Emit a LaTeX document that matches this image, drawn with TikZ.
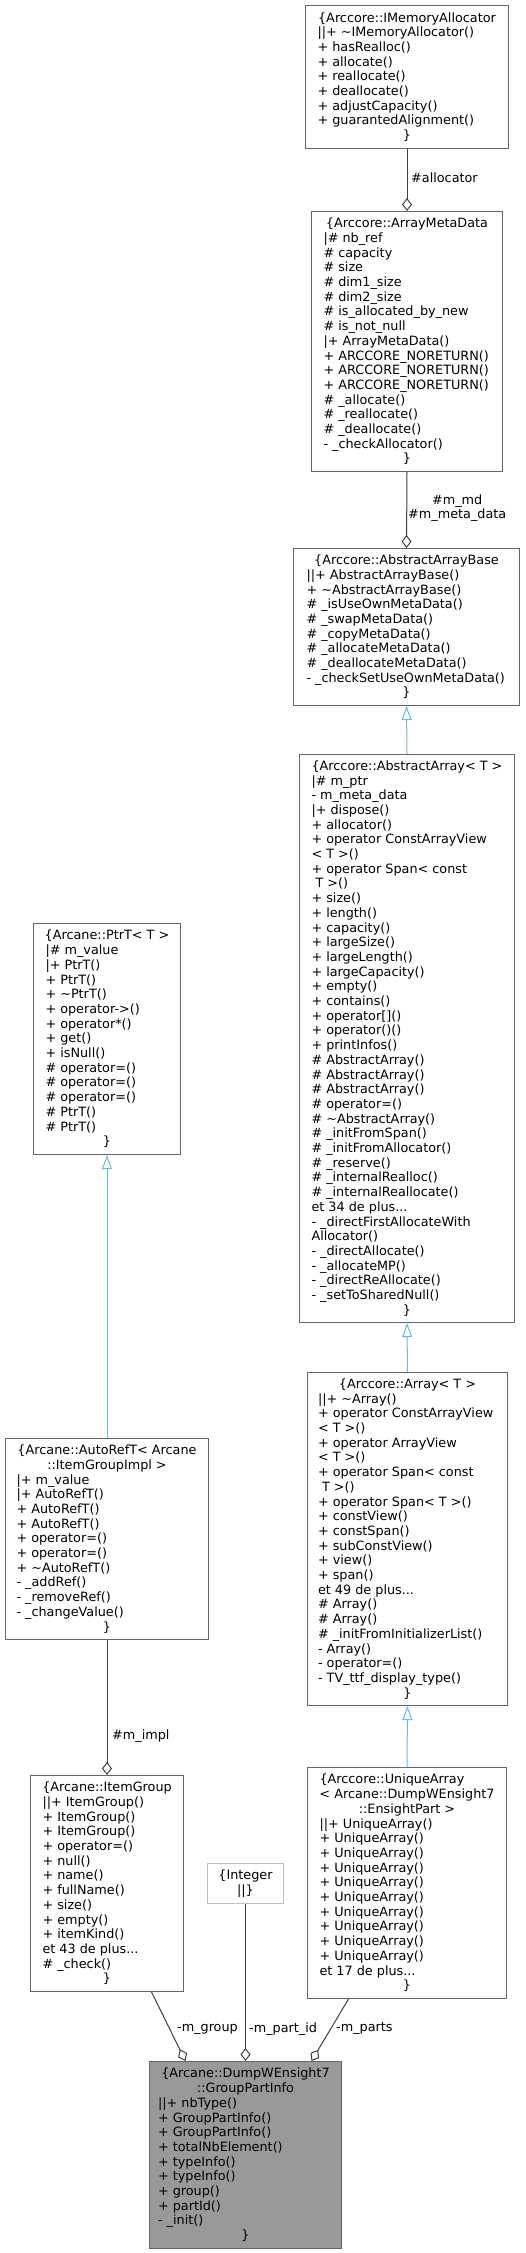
\documentclass[tikz,border=0pt]{standalone}
\usepackage{fontspec}
\setmainfont{DejaVu Sans}
\usetikzlibrary{arrows.meta}
\definecolor{cbord}{HTML}{666666}
\definecolor{cint}{HTML}{BFBFBF}
\definecolor{cmain}{HTML}{999999}
\definecolor{cedge}{HTML}{404040}
\definecolor{cinh}{HTML}{63B8FF}
\newcommand\nodefont{\fontsize{12.8pt}{14.7pt}\selectfont}
\newcommand\rowL[1]{\hbox to\hsize{#1\hss}}
\newcommand\rowC[1]{\hbox to\hsize{\hss#1\hss}}
\begin{document}
\begin{tikzpicture}[x=1pt,y=-1pt,
  cls/.style={draw=cbord, line width=1pt, fill=white, inner sep=0pt, anchor=north west, font=\nodefont},
  mainbox/.style={cls, fill=cmain},
  intbox/.style={cls, draw=cint},
  use/.style={draw=cedge, line width=1pt, -{Diamond[open,length=13pt,width=10pt]}},
  inh/.style={draw=cinh, line width=1pt, -{Triangle[open,length=14pt,width=10pt]}},
  lbl/.style={inner sep=0pt, font=\nodefont, text=black}]
\useasboundingbox (0,0) rectangle (525,2253);

\node[cls, minimum width=203pt, minimum height=143pt] (imem) at (305,5) {\vbox{\hsize=179pt
\rowC{\{Arccore::IMemoryAllocator}
\rowL{||+ \textasciitilde IMemoryAllocator()}
\rowL{+ hasRealloc()}
\rowL{+ allocate()}
\rowL{+ reallocate()}
\rowL{+ deallocate()}
\rowL{+ adjustCapacity()}
\rowL{+ guarantedAlignment()}
\rowC{\}}}};

\node[cls, minimum width=191pt, minimum height=260pt] (amd) at (311,211) {\vbox{\hsize=167pt
\rowC{\{Arccore::ArrayMetaData}
\rowL{|\# nb\_ref}
\rowL{\# capacity}
\rowL{\# size}
\rowL{\# dim1\_size}
\rowL{\# dim2\_size}
\rowL{\# is\_allocated\_by\_new}
\rowL{\# is\_not\_null}
\rowL{|+ ArrayMetaData()}
\rowL{+ ARCCORE\_NORETURN()}
\rowL{+ ARCCORE\_NORETURN()}
\rowL{+ ARCCORE\_NORETURN()}
\rowL{\# \_allocate()}
\rowL{\# \_reallocate()}
\rowL{\# \_deallocate()}
\rowL{- \_checkAllocator()}
\rowC{\}}}};

\node[cls, minimum width=226pt, minimum height=157pt] (aab) at (293,548) {\vbox{\hsize=200pt
\rowC{\{Arccore::AbstractArrayBase}
\rowL{||+ AbstractArrayBase()}
\rowL{+ \textasciitilde AbstractArrayBase()}
\rowL{\# \_isUseOwnMetaData()}
\rowL{\# \_swapMetaData()}
\rowL{\# \_copyMetaData()}
\rowL{\# \_allocateMetaData()}
\rowL{\# \_deallocateMetaData()}
\rowL{- \_checkSetUseOwnMetaData()}
\rowC{\}}}};

\node[cls, minimum width=215pt, minimum height=568pt] (aa) at (299,754) {\vbox{\hsize=191pt
\rowC{\{Arccore::AbstractArray< T >}
\rowL{|\# m\_ptr}
\rowL{- m\_meta\_data}
\rowL{|+ dispose()}
\rowL{+ allocator()}
\rowL{+ operator ConstArrayView}
\rowL{< T >()}
\rowL{+ operator Span< const}
\rowL{\ T >()}
\rowL{+ size()}
\rowL{+ length()}
\rowL{+ capacity()}
\rowL{+ largeSize()}
\rowL{+ largeLength()}
\rowL{+ largeCapacity()}
\rowL{+ empty()}
\rowL{+ contains()}
\rowL{+ operator[]()}
\rowL{+ operator()()}
\rowL{+ printInfos()}
\rowL{\# AbstractArray()}
\rowL{\# AbstractArray()}
\rowL{\# AbstractArray()}
\rowL{\# operator=()}
\rowL{\# \textasciitilde AbstractArray()}
\rowL{\# \_initFromSpan()}
\rowL{\# \_initFromAllocator()}
\rowL{\# \_reserve()}
\rowL{\# \_internalRealloc()}
\rowL{\# \_internalReallocate()}
\rowL{et 34 de plus...}
\rowL{- \_directFirstAllocateWith}
\rowL{Allocator()}
\rowL{- \_directAllocate()}
\rowL{- \_allocateMP()}
\rowL{- \_directReAllocate()}
\rowL{- \_setToSharedNull()}
\rowC{\}}}};

\node[cls, minimum width=200pt, minimum height=333pt] (arr) at (307,1372) {\vbox{\hsize=179pt
\rowC{\{Arccore::Array< T >}
\rowL{||+ \textasciitilde Array()}
\rowL{+ operator ConstArrayView}
\rowL{< T >()}
\rowL{+ operator ArrayView}
\rowL{< T >()}
\rowL{+ operator Span< const}
\rowL{\ T >()}
\rowL{+ operator Span< T >()}
\rowL{+ constView()}
\rowL{+ constSpan()}
\rowL{+ subConstView()}
\rowL{+ view()}
\rowL{+ span()}
\rowL{et 49 de plus...}
\rowL{\# Array()}
\rowL{\# Array()}
\rowL{\# \_initFromInitializerList()}
\rowL{- Array()}
\rowL{- operator=()}
\rowL{- TV\_ttf\_display\_type()}
\rowC{\}}}};

\node[cls, minimum width=199pt, minimum height=231pt] (ua) at (307,1767) {\vbox{\hsize=175pt
\rowL{\{Arccore::UniqueArray}
\rowC{< Arcane::DumpWEnsight7}
\rowC{::EnsightPart >}
\rowL{||+ UniqueArray()}
\rowL{+ UniqueArray()}
\rowL{+ UniqueArray()}
\rowL{+ UniqueArray()}
\rowL{+ UniqueArray()}
\rowL{+ UniqueArray()}
\rowL{+ UniqueArray()}
\rowL{+ UniqueArray()}
\rowL{+ UniqueArray()}
\rowL{+ UniqueArray()}
\rowL{et 17 de plus...}
\rowC{\}}}};

\node[cls, minimum width=147pt, minimum height=231pt] (ptr) at (33,923) {\vbox{\hsize=123pt
\rowC{\{Arcane::PtrT< T >}
\rowL{|\# m\_value}
\rowL{|+ PtrT()}
\rowL{+ PtrT()}
\rowL{+ \textasciitilde PtrT()}
\rowL{+ operator->()}
\rowL{+ operator*()}
\rowL{+ get()}
\rowL{+ isNull()}
\rowL{\# operator=()}
\rowL{\# operator=()}
\rowL{\# operator=()}
\rowL{\# PtrT()}
\rowL{\# PtrT()}
\rowC{\}}}};

\node[cls, minimum width=203pt, minimum height=201pt] (ar) at (5,1438) {\vbox{\hsize=181pt
\rowC{\{Arcane::AutoRefT< Arcane}
\rowC{::ItemGroupImpl >}
\rowL{|+ m\_value}
\rowL{|+ AutoRefT()}
\rowL{+ AutoRefT()}
\rowL{+ AutoRefT()}
\rowL{+ operator=()}
\rowL{+ operator=()}
\rowL{+ \textasciitilde AutoRefT()}
\rowL{- \_addRef()}
\rowL{- \_removeRef()}
\rowL{- \_changeValue()}
\rowC{\}}}};

\node[cls, minimum width=153pt, minimum height=216pt] (ig) at (30,1775) {\vbox{\hsize=129pt
\rowC{\{Arcane::ItemGroup}
\rowL{||+ ItemGroup()}
\rowL{+ ItemGroup()}
\rowL{+ ItemGroup()}
\rowL{+ operator=()}
\rowL{+ null()}
\rowL{+ name()}
\rowL{+ fullName()}
\rowL{+ size()}
\rowL{+ empty()}
\rowL{+ itemKind()}
\rowL{et 43 de plus...}
\rowL{\# \_check()}
\rowC{\}}}};

\node[intbox, minimum width=76pt, minimum height=40pt] (int) at (207,1863) {\vbox{\hsize=60pt
\rowC{\{Integer}
\rowC{||\}}}};

\node[mainbox, minimum width=192pt, minimum height=187pt] (main) at (149,2061) {\vbox{\hsize=175pt
\rowC{\{Arcane::DumpWEnsight7}
\rowC{::GroupPartInfo}
\rowL{||+ nbType()}
\rowL{+ GroupPartInfo()}
\rowL{+ GroupPartInfo()}
\rowL{+ totalNbElement()}
\rowL{+ typeInfo()}
\rowL{+ typeInfo()}
\rowL{+ group()}
\rowL{+ partId()}
\rowL{- \_init()}
\rowC{\}}}};

% connectors
\draw[use] (imem.south) -- (amd.north);
\draw[use] (amd.south) -- (aab.north);
\draw[inh] (aa.north) -- (aab.south);
\draw[inh] (arr.north) -- (aa.south);
\draw[inh] (ua.north) -- (arr.south);
\draw[inh] (ar.north) -- (ptr.south);
\draw[use] (ar.south) -- (ig.north);
\draw[use] ([xshift=44.5pt]ig.south) -- ([xshift=-60pt]main.north);
\draw[use] (int.south) -- (int.south |- main.north);
\draw[use] ([xshift=-58.5pt]ua.south) -- ([xshift=66pt]main.north);

% labels
\node[lbl, anchor=west] (lalloc) at (411,178) {\#allocator};
\node[lbl, anchor=west, align=center] (lmd) at (408,508) {\#m\_md\\\#m\_meta\_data};
\node[lbl, anchor=west] (limpl) at (112,1736) {\#m\_impl};
\node[lbl, anchor=east] (lgroup) at (238,2029) {-m\_group};
\node[lbl, anchor=west] (lpid) at (249,2029) {-m\_part\_id};
\node[lbl, anchor=west] (lparts) at (336,2028) {-m\_parts};
\end{tikzpicture}
\end{document}
